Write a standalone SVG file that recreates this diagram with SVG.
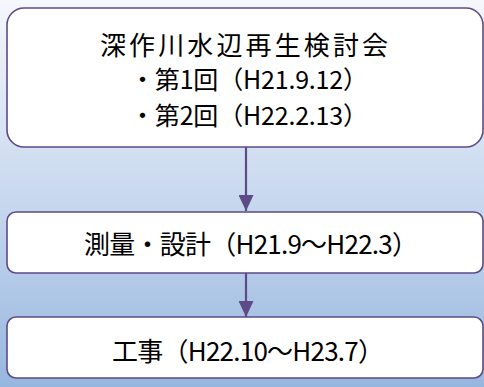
<svg xmlns="http://www.w3.org/2000/svg" width="484" height="387" viewBox="0 0 484 387">
<defs>
<linearGradient id="bg" x1="0" y1="0" x2="0" y2="1">
<stop offset="0" stop-color="#f5f7fc"/>
<stop offset="0.5" stop-color="#c9d9ef"/>
<stop offset="1" stop-color="#97b6df"/>
</linearGradient>
<marker id="ah" markerWidth="16" markerHeight="15" refX="16" refY="7.5" orient="auto" markerUnits="userSpaceOnUse">
<path d="M0,0 L16,7.5 L0,15 Z" fill="#5e4a87"/>
</marker>
<style>
.box{fill:#ffffff;stroke:#5e4a87;stroke-width:1.6}
.t{font-family:"Noto Sans CJK JP","Noto Sans CJK SC",sans-serif;font-size:26px;fill:#000000}
.s{font-size:25px}
.c{stroke:#5e4a87;stroke-width:2.2;fill:none}
</style>
</defs>
<rect x="0" y="0" width="484" height="387" fill="url(#bg)"/>
<g id="connectors">
<line class="c" x1="246" y1="147" x2="246" y2="211" marker-end="url(#ah)"/>
<line class="c" x1="246" y1="273" x2="246" y2="317" marker-end="url(#ah)"/>
</g>
<g id="node1">
<rect class="box" x="7" y="8" width="476" height="139" rx="17" ry="17"/>
<text class="t" x="100" y="55" textLength="288" lengthAdjust="spacing">深作川水辺再生検討会</text>
<text class="t s" x="130" y="89" textLength="238" lengthAdjust="spacing">・第1回（H21.9.12）</text>
<text class="t s" x="130" y="125" textLength="238" lengthAdjust="spacing">・第2回（H22.2.13）</text>
</g>
<g id="node2">
<rect class="box" x="7" y="212" width="476" height="61" rx="9" ry="9"/>
<text class="t" x="84" y="254" textLength="334" lengthAdjust="spacing">測量・設計（H21.9～H22.3）</text>
</g>
<g id="node3">
<rect class="box" x="7" y="317" width="476" height="61" rx="9" ry="9"/>
<text class="t" x="112" y="361" textLength="272" lengthAdjust="spacing">工事（H22.10～H23.7）</text>
</g>
</svg>
